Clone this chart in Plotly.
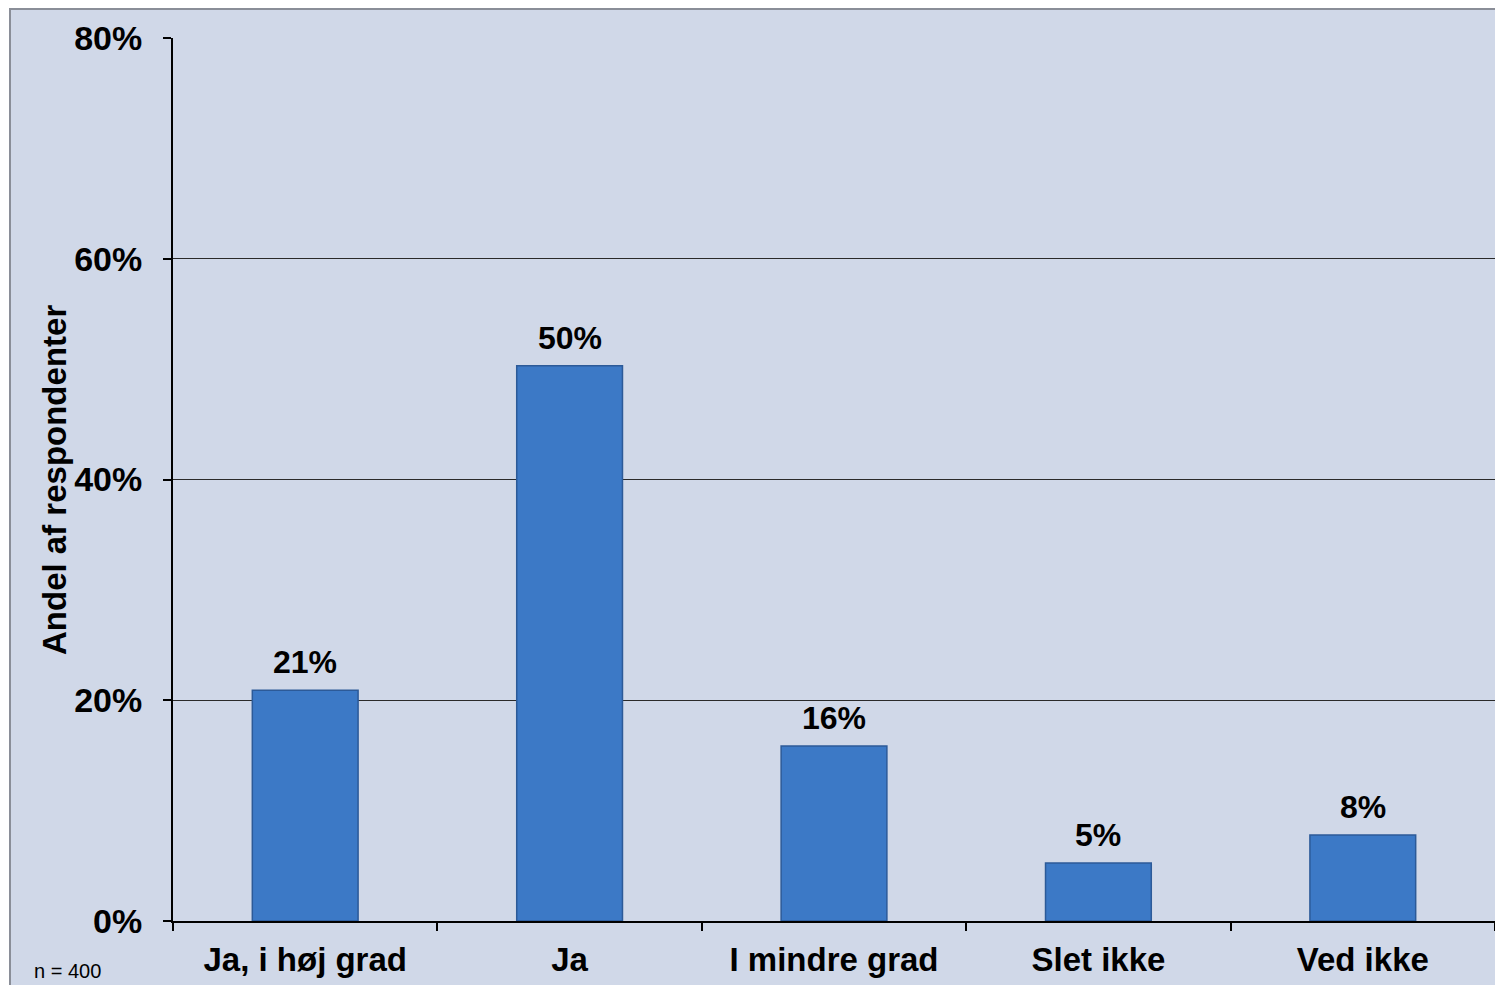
import plotly.graph_objects as go

categories = ["Ja, i høj grad", "Ja", "I mindre grad", "Slet ikke", "Ved ikke"]
values = [20.9, 50.3, 15.85, 5.25, 7.8]
labels = ["21%", "50%", "16%", "5%", "8%"]
y_ticks = [0, 20, 40, 60, 80]
y_tick_labels = ["0%", "20%", "40%", "60%", "80%"]

OFF = 8  # default body margin of the html page
W, H = 1503 - OFF, 985 - OFF
# plot area in page pixels: x 173..1495, y 38..921
L, R, T, B = 173 - OFF, W - (1495 - OFF), 38 - OFF, H - (921 - OFF)
pw, ph = W - L - R, H - T - B

def px_x(px):
    return (px - OFF - L) / pw

def px_y(py):
    return (H - B - (py - OFF)) / ph

font_fam = "Liberation Sans, Arial, sans-serif"

fig = go.Figure()
fig.add_trace(go.Bar(
    x=categories, y=values,
    marker=dict(color="#3C79C6", line=dict(color="#2C5A98", width=1.5)),
    width=0.4,
))

annotations = [
    dict(x=c, y=v, text=t, showarrow=False, yanchor="bottom", yshift=8,
         xref="x", yref="y",
         font=dict(family=font_fam, size=32, color="black", weight="bold"))
    for c, v, t in zip(categories, values, labels)
]
annotations += [
    dict(text="Andel af respondenter", textangle=-90, xref="paper", yref="paper",
         x=px_x(54), y=px_y(480), showarrow=False, xanchor="center", yanchor="middle",
         font=dict(family=font_fam, size=33, color="black", weight="bold")),
    dict(text="n = 400", xref="paper", yref="paper",
         x=px_x(32), y=px_y(971), showarrow=False, xanchor="left", yanchor="middle",
         font=dict(family=font_fam, size=20, color="black", weight="normal")),
]

fig.update_layout(
    width=W, height=H,
    margin=dict(l=L, r=R, t=T, b=B),
    paper_bgcolor="white",
    plot_bgcolor="rgba(0,0,0,0)",
    showlegend=False,
    bargap=0.6,
    xaxis=dict(
        type="category", showline=True, linecolor="black", linewidth=2,
        ticks="outside", tickson="boundaries", ticklen=8, tickcolor="black", tickwidth=2,
        tickfont=dict(family=font_fam, size=33, color="black", weight="bold"),
        ticklabelstandoff=8,
        showgrid=False,
    ),
    yaxis=dict(
        range=[0, 80], tickvals=y_ticks, ticktext=y_tick_labels,
        showline=True, linecolor="black", linewidth=2,
        ticks="outside", ticklen=8, tickcolor="black", tickwidth=2,
        tickfont=dict(family=font_fam, size=34, color="black", weight="bold"),
        ticklabelstandoff=14,
        showgrid=True, gridcolor="#2a2a2a", gridwidth=1, zeroline=False,
    ),
    shapes=[dict(
        type="rect", xref="paper", yref="paper", layer="below",
        x0=px_x(10), x1=px_x(1510), y0=px_y(990), y1=px_y(9),
        fillcolor="#D0D8E8", line=dict(color="#8a8e98", width=2),
    )],
    annotations=annotations,
)

fig.write_html("out.html")
